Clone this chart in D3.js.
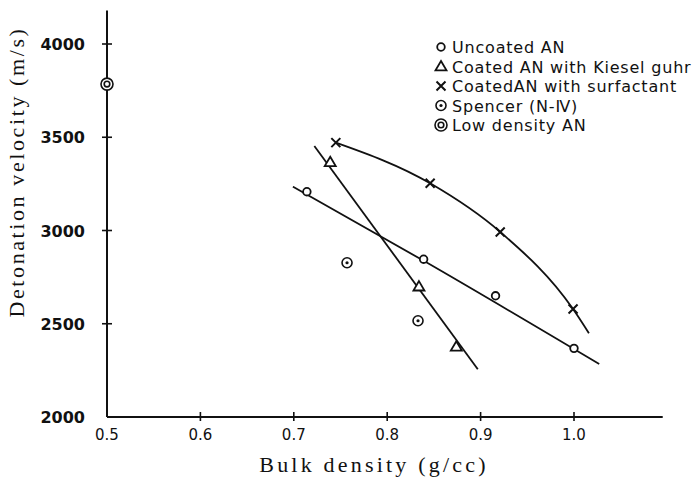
<!DOCTYPE html>
<html><head><meta charset="utf-8">
<script src="https://cdn.jsdelivr.net/npm/d3@7"></script>
<style>body{margin:0;background:#fff}svg{display:block}</style>
</head><body><svg id="c" width="696" height="482"></svg>
<script>
// ---- data ----
const xTicks = [0.5, 0.6, 0.7, 0.8, 0.9, 1.0];
const xTickLabels = ["0.5", "0.6", "0.7", "0.8", "0.9", "1.0"];
const yTicks = [2000, 2500, 3000, 3500, 4000];
const yTickLabels = ["2000", "2500", "3000", "3500", "4000"];

const uncoatedX = [0.714, 0.839, 0.916, 1.0];
const uncoatedY = [3208, 2846, 2650, 2368];
const kieselX = [0.739, 0.834, 0.874];
const kieselY = [3366, 2699, 2377];
const surfX = [0.745, 0.846, 0.921, 0.999];
const surfY = [3471, 3253, 2992, 2579];
const spencerX = [0.757, 0.833];
const spencerY = [2827, 2516];
const lowX = [0.5];
const lowY = [3785];

// hand-drawn fit lines
const uncoatedFitX = [0.699, 0.84, 1.027];
const uncoatedFitY = [3235, 2835, 2284];
const kieselFitX = [0.722, 0.897];
const kieselFitY = [3453, 2256];
const surfFitX = [0.745, 0.846, 0.921, 0.999, 1.016];
const surfFitY = [3471, 3253, 2992, 2579, 2449];

const legendLabels = ["Uncoated AN", "Coated AN with Kiesel guhr", "CoatedAN with surfactant", "Spencer (N-\u2163)", "Low density AN"];
const legendSymbols = ["circle", "triangle", "cross", "dot", "double"];

const xLabel = "Bulk density (g/cc)";
const yLabel = "Detonation velocity (m/s)";

// ---- drawing ----
const svg = d3.select("#c");
const x = d3.scaleLinear().domain([0.5, 1.0]).range([107, 574]);
const y = d3.scaleLinear().domain([2000, 4000]).range([417, 44]);
const xEnd = 1.095, yEnd = 4180;

const ink = "#111";
// axes lines
svg.append("line").attr("x1", x(0.5)).attr("x2", x(xEnd)).attr("y1", y(2000)).attr("y2", y(2000))
  .attr("stroke", ink).attr("stroke-width", 2);
svg.append("line").attr("x1", x(0.5)).attr("x2", x(0.5)).attr("y1", y(2000)).attr("y2", y(yEnd))
  .attr("stroke", ink).attr("stroke-width", 2);

// y ticks (tick marks cross the axis)
svg.selectAll(".ytick").data(yTicks.slice(1)).enter().append("line")
  .attr("x1", x(0.5) - 5).attr("x2", x(0.5) + 5).attr("y1", d => y(d)).attr("y2", d => y(d))
  .attr("stroke", ink).attr("stroke-width", 1.6);
svg.selectAll(".ylab").data(yTicks).enter().append("text")
  .attr("x", 85).attr("y", d => y(d) + 6).attr("text-anchor", "end")
  .attr("font-family", "DejaVu Sans").attr("font-weight", "bold").attr("font-size", 16)
  .attr("fill", ink).text((d, i) => yTickLabels[i]);

// x ticks
svg.selectAll(".xtick").data(xTicks.slice(1)).enter().append("line")
  .attr("x1", d => x(d)).attr("x2", d => x(d)).attr("y1", y(2000) - 5).attr("y2", y(2000) + 4)
  .attr("stroke", ink).attr("stroke-width", 1.6);
svg.selectAll(".xlab").data(xTicks).enter().append("text")
  .attr("x", d => x(d)).attr("y", 440).attr("text-anchor", "middle")
  .attr("font-family", "DejaVu Sans").attr("font-size", 15)
  .attr("fill", ink).text((d, i) => xTickLabels[i]);

// axis titles
svg.append("text").attr("x", 374).attr("y", 472).attr("text-anchor", "middle")
  .attr("font-family", "Liberation Serif").attr("font-size", 22).attr("letter-spacing", 3.2)
  .attr("fill", ink).text(xLabel);
svg.append("text").attr("transform", "translate(24,172) rotate(-90)").attr("text-anchor", "middle")
  .attr("font-family", "Liberation Serif").attr("font-size", 22).attr("letter-spacing", 2.6)
  .attr("fill", ink).text(yLabel);

// fit lines
const zip = (a, b) => a.map((v, i) => [v, b[i]]);
const line = d3.line().x(d => x(d[0])).y(d => y(d[1]));
const curve = d3.line().x(d => x(d[0])).y(d => y(d[1])).curve(d3.curveMonotoneX);
svg.append("path").attr("d", curve(zip(uncoatedFitX, uncoatedFitY))).attr("fill", "none").attr("stroke", ink).attr("stroke-width", 1.8);
svg.append("path").attr("d", line(zip(kieselFitX, kieselFitY))).attr("fill", "none").attr("stroke", ink).attr("stroke-width", 1.8);
svg.append("path").attr("d", curve(zip(surfFitX, surfFitY))).attr("fill", "none").attr("stroke", ink).attr("stroke-width", 1.8);

// markers
function marker(g, type, cx, cy) {
  if (type === "circle") {
    g.append("circle").attr("cx", cx).attr("cy", cy).attr("r", 3.8).attr("fill", "#fff").attr("stroke", ink).attr("stroke-width", 1.8);
  } else if (type === "triangle") {
    const s = 5.5;
    g.append("path").attr("d", `M${cx},${cy - s}L${cx + s},${cy + s * 0.7}L${cx - s},${cy + s * 0.7}Z`)
      .attr("fill", "#fff").attr("stroke", ink).attr("stroke-width", 1.8);
  } else if (type === "cross") {
    const s = 4.5;
    g.append("path").attr("d", `M${cx - s},${cy - s}L${cx + s},${cy + s}M${cx + s},${cy - s}L${cx - s},${cy + s}`)
      .attr("stroke", ink).attr("stroke-width", 2);
  } else if (type === "dot") {
    g.append("circle").attr("cx", cx).attr("cy", cy).attr("r", 5).attr("fill", "#fff").attr("stroke", ink).attr("stroke-width", 1.6);
    g.append("circle").attr("cx", cx).attr("cy", cy).attr("r", 1.6).attr("fill", ink);
  } else if (type === "double") {
    g.append("circle").attr("cx", cx).attr("cy", cy).attr("r", 6).attr("fill", "#fff").attr("stroke", ink).attr("stroke-width", 1.6);
    g.append("circle").attr("cx", cx).attr("cy", cy).attr("r", 2.8).attr("fill", "#fff").attr("stroke", ink).attr("stroke-width", 1.6);
  }
}
const gm = svg.append("g");
uncoatedX.forEach((v, i) => marker(gm, "circle", x(v), y(uncoatedY[i])));
kieselX.forEach((v, i) => marker(gm, "triangle", x(v), y(kieselY[i])));
surfX.forEach((v, i) => marker(gm, "cross", x(v), y(surfY[i])));
spencerX.forEach((v, i) => marker(gm, "dot", x(v), y(spencerY[i])));
lowX.forEach((v, i) => marker(gm, "double", x(v), y(lowY[i])));

// legend
const lg = svg.append("g");
legendLabels.forEach((t, i) => {
  const yy = 47 + i * 19.5;
  marker(lg, legendSymbols[i], 441, yy);
  lg.append("text").attr("x", 452).attr("y", yy + 6)
    .attr("font-family", "DejaVu Sans").attr("font-size", 16).attr("letter-spacing", 0.8)
    .attr("fill", ink).text(t);
});
</script></body></html>
